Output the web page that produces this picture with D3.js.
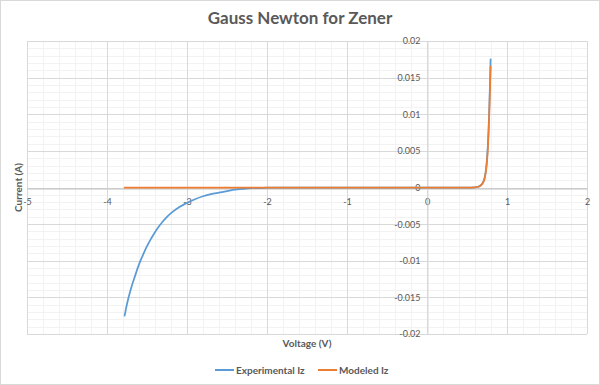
<!DOCTYPE html>
<html>
<head>
<meta charset="utf-8">
<script src="https://cdn.jsdelivr.net/npm/d3@7"></script>
<style>
  body { margin: 0; background: #fff; }
  svg { display: block; font-family: Lato, "Open Sans", sans-serif; }
</style>
</head>
<body>
<div id="chart"></div>
<script>
// Experimental sweep (V, A)
const expVoltage = [-3.78, -3.75, -3.70, -3.65, -3.60, -3.55, -3.50, -3.45, -3.40, -3.35, -3.30, -3.25, -3.20, -3.10, -3.00, -2.90, -2.80, -2.70, -2.60, -2.50, -2.40, -2.30, -2.20, -2.00, -1.80, -1.00, 0.00, 0.50, 0.60, 0.64, 0.66, 0.68, 0.70, 0.72, 0.73, 0.74, 0.75, 0.76, 0.77, 0.78, 0.79, 0.795];
const expCurrent = [-0.0175, -0.0159, -0.0138, -0.0121, -0.0105, -0.0092, -0.0080, -0.0070, -0.0061, -0.0053, -0.0046, -0.0040, -0.0035, -0.0027, -0.0021, -0.0016, -0.0012, -0.0009, -0.0007, -0.0005, -0.0003, -0.0002, -0.0001, -0.00003, 0, 0, 0, 0, 0.00003, 0.0001, 0.0002, 0.0004, 0.0007, 0.0013, 0.0019, 0.0027, 0.0039, 0.0056, 0.0080, 0.0113, 0.0152, 0.0175];

// Gauss-Newton fitted model (V, A)
const modVoltage = [-3.78, -3.00, -2.00, -1.00, 0.00, 0.50, 0.60, 0.64, 0.66, 0.68, 0.70, 0.72, 0.74, 0.75, 0.76, 0.77, 0.78, 0.79, 0.795];
const modCurrent = [0, 0, 0, 0, 0, 0, 0.00003, 0.0001, 0.00018, 0.00035, 0.00065, 0.0012, 0.0025, 0.0036, 0.0052, 0.0075, 0.0106, 0.0145, 0.0165];

const xTicks = [-5, -4, -3, -2, -1, 0, 1, 2];
const xTickLabels = ["-5", "-4", "-3", "-2", "-1", "0", "1", "2"];
const yTicks = [-0.02, -0.015, -0.01, -0.005, 0, 0.005, 0.01, 0.015, 0.02];
const yTickLabels = ["-0.02", "-0.015", "-0.01", "-0.005", "0", "0.005", "0.01", "0.015", "0.02"];

const seriesNames = ["Experimental Iz", "Modeled Iz"];
const seriesColors = ["#5B9BD5", "#ED7D31"];

const W = 600, H = 385;
const textColor = "#595959";

const svg = d3.select("#chart")
  .append("svg")
    .attr("width", W)
    .attr("height", H);

svg.append("rect")
  .attr("x", 0.5).attr("y", 0.5)
  .attr("width", W - 1).attr("height", H - 1)
  .attr("fill", "#fff")
  .attr("stroke", "#d9d9d9");

const x = d3.scaleLinear().domain([-5, 2]).range([27, 587]);
const y = d3.scaleLinear().domain([-0.02, 0.02]).range([334, 41]);

// minor gridlines
const minorX = d3.range(-5, 2.0001, 0.2);
const minorY = d3.range(-0.02, 0.02001, 0.001);
const grid = svg.append("g");
grid.selectAll(".mx").data(minorX).enter().append("line")
  .attr("x1", d => Math.round(x(d)) + 0.5).attr("x2", d => Math.round(x(d)) + 0.5)
  .attr("y1", y(0.02)).attr("y2", y(-0.02))
  .attr("stroke", "#f2f2f2");
grid.selectAll(".my").data(minorY).enter().append("line")
  .attr("y1", d => Math.round(y(d)) + 0.5).attr("y2", d => Math.round(y(d)) + 0.5)
  .attr("x1", x(-5)).attr("x2", x(2))
  .attr("stroke", "#f2f2f2");

// major gridlines
grid.selectAll(".gx").data(xTicks).enter().append("line")
  .attr("x1", d => Math.round(x(d)) + 0.5).attr("x2", d => Math.round(x(d)) + 0.5)
  .attr("y1", y(0.02)).attr("y2", y(-0.02))
  .attr("stroke", "#d9d9d9");
grid.selectAll(".gy").data(yTicks).enter().append("line")
  .attr("y1", d => Math.round(y(d)) + 0.5).attr("y2", d => Math.round(y(d)) + 0.5)
  .attr("x1", x(-5)).attr("x2", x(2))
  .attr("stroke", "#d9d9d9");

// axes crossing at zero
const xAxis = svg.append("g")
  .attr("transform", `translate(0,${Math.round(y(0)) + 0.5})`)
  .call(d3.axisBottom(x).tickValues(xTicks).tickSize(0).tickPadding(10)
    .tickFormat((d, i) => xTickLabels[i]));
xAxis.select(".domain").attr("stroke", "#bfbfbf");

const yAxis = svg.append("g")
  .attr("transform", `translate(${Math.round(x(0)) + 0.5},0)`)
  .call(d3.axisLeft(y).tickValues(yTicks).tickSize(0).tickPadding(7)
    .tickFormat((d, i) => yTickLabels[i]));
yAxis.select(".domain").attr("stroke", "#d9d9d9");

svg.selectAll(".tick text")
  .attr("fill", textColor)
  .style("font-size", "9px")
  .style("font-family", "Lato, sans-serif");

// series lines
const line = d3.line()
  .curve(d3.curveMonotoneX)
  .x(d => x(d[0]))
  .y(d => y(d[1]));

const series = [
  d3.zip(expVoltage, expCurrent),
  d3.zip(modVoltage, modCurrent)
];

svg.selectAll(".series")
  .data(series)
  .enter().append("path")
  .attr("d", line)
  .attr("fill", "none")
  .attr("stroke", (d, i) => seriesColors[i])
  .attr("stroke-width", 1.75)
  .attr("stroke-linejoin", "round")
  .attr("stroke-linecap", "round");

// titles
svg.append("text")
  .attr("x", 300).attr("y", 24)
  .attr("text-anchor", "middle")
  .attr("fill", textColor)
  .style("font-size", "17px")
  .style("font-weight", "bold")
  .text("Gauss Newton for Zener");

svg.append("text")
  .attr("x", 307).attr("y", 347)
  .attr("text-anchor", "middle")
  .attr("fill", textColor)
  .style("font-size", "10px")
  .style("font-weight", "bold")
  .text("Voltage (V)");

svg.append("text")
  .attr("transform", `translate(22,${y(0)}) rotate(-90)`)
  .attr("text-anchor", "middle")
  .attr("fill", textColor)
  .style("font-size", "10px")
  .style("font-weight", "bold")
  .text("Current (A)");

// legend
const legendX = [215, 318];
const legend = svg.selectAll(".legend")
  .data(seriesNames)
  .enter().append("g")
  .attr("transform", (d, i) => `translate(${legendX[i]},370)`);
legend.append("line")
  .attr("x1", 0).attr("x2", 19)
  .attr("stroke", (d, i) => seriesColors[i])
  .attr("stroke-width", 2);
legend.append("text")
  .attr("x", 21).attr("dy", "0.35em")
  .attr("fill", textColor)
  .style("font-size", "10px")
  .style("font-weight", "bold")
  .text(d => d);
</script>
</body>
</html>
